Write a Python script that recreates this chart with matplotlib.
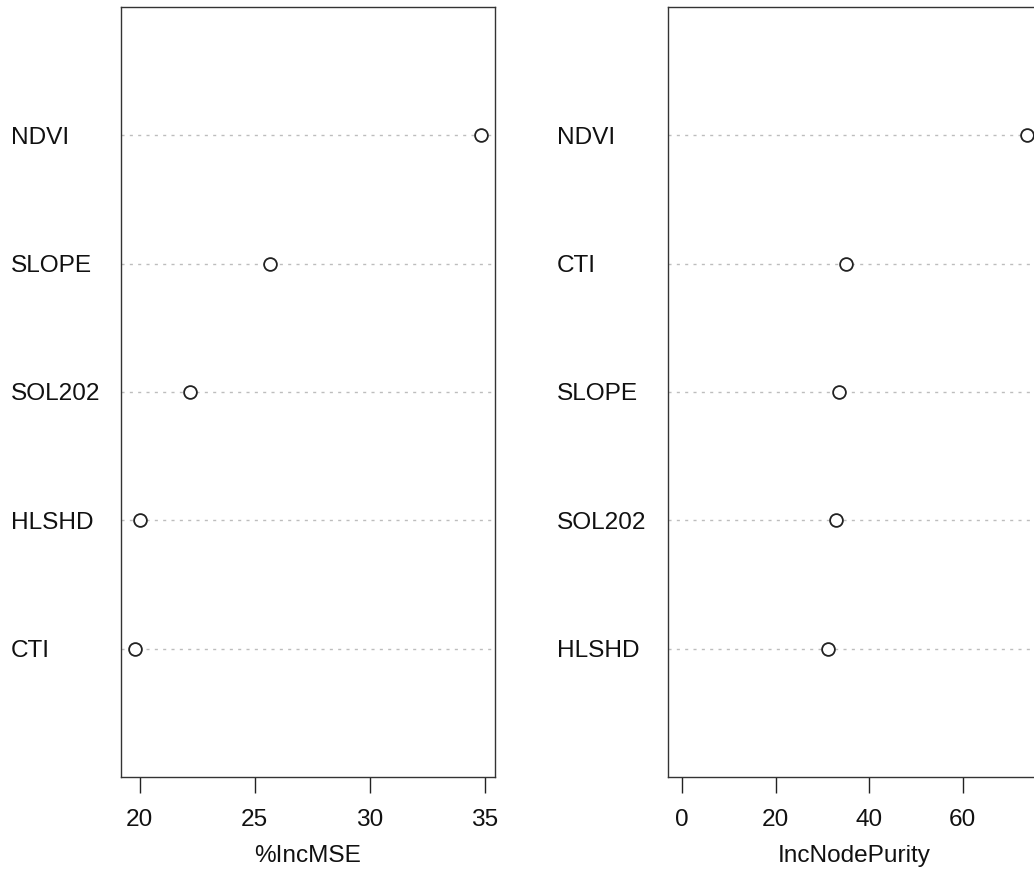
import matplotlib
matplotlib.use("Agg")
import matplotlib.pyplot as plt
import matplotlib.transforms as mtransforms

plt.rcParams['font.family'] = ['Liberation Sans', 'DejaVu Sans']
plt.rcParams['lines.scale_dashes'] = False

# Left panel: %IncMSE (bottom to top)
mse_vars = ["CTI", "HLSHD", "SOL202", "SLOPE", "NDVI"]
mse_vals = [19.78, 20.0, 22.17, 25.65, 34.83]
mse_ticks = [20, 25, 30, 35]

# Right panel: IncNodePurity (bottom to top)
inp_vars = ["HLSHD", "SOL202", "SLOPE", "CTI", "NDVI"]
inp_vals = [31.2, 32.9, 33.5, 35.0, 73.7]
inp_ticks = [0, 20, 40, 60]

W, H = 1034, 871
fig = plt.figure(figsize=(W / 100, H / 100), dpi=100)
FS = 17.6

def panel(left_px, right_px, label_x_px, names, vals, ticks, xlabel, xlim):
    top, bottom = 7, 777
    ax = fig.add_axes([left_px / W, (H - bottom) / H,
                       (right_px - left_px) / W, (bottom - top) / H])
    ys = list(range(1, len(vals) + 1))
    for y in ys:
        ax.axhline(y, color='#bdbdbd', lw=1.0, linestyle=(0, (2.2, 3.8)), zorder=1)
    ax.plot(vals, ys, linestyle='none', marker='o', markersize=9.2,
            markerfacecolor='white', markeredgecolor='#222222',
            markeredgewidth=1.3, zorder=3)
    ax.set_xlim(*xlim)
    ax.set_ylim(0, len(vals) + 1)
    ax.set_yticks([])
    ax.set_xticks(ticks)
    ax.set_xticklabels([str(t) for t in ticks])
    ax.tick_params(axis='x', length=11.5, width=1.0, pad=11.5, labelsize=FS,
                   color='#222222', labelcolor='#111111')
    for s in ax.spines.values():
        s.set_linewidth(1.0)
        s.set_color('#333333')
    ax.set_xlabel(xlabel, fontsize=FS, labelpad=10, color='#111111')
    trans = mtransforms.blended_transform_factory(fig.transFigure, ax.transData)
    trans = trans + mtransforms.ScaledTranslation(0, -8.3 / 100, fig.dpi_scale_trans)
    for n, y in zip(names, ys):
        ax.text(label_x_px / W, y, n, transform=trans, fontsize=FS,
                ha='left', va='baseline', color='#111111')
    return ax

r1 = max(mse_vals) - min(mse_vals)
panel(120.7, 495, 11, mse_vars, mse_vals, mse_ticks, "%IncMSE",
      (min(mse_vals) - 0.04 * r1, max(mse_vals) + 0.04 * r1))
r2 = max(inp_vals)
panel(668.3, 1040.5, 557, inp_vars, inp_vals, inp_ticks, "IncNodePurity",
      (-0.04 * r2, max(inp_vals) + 0.04 * r2))

fig.savefig("out.png", dpi=100)
